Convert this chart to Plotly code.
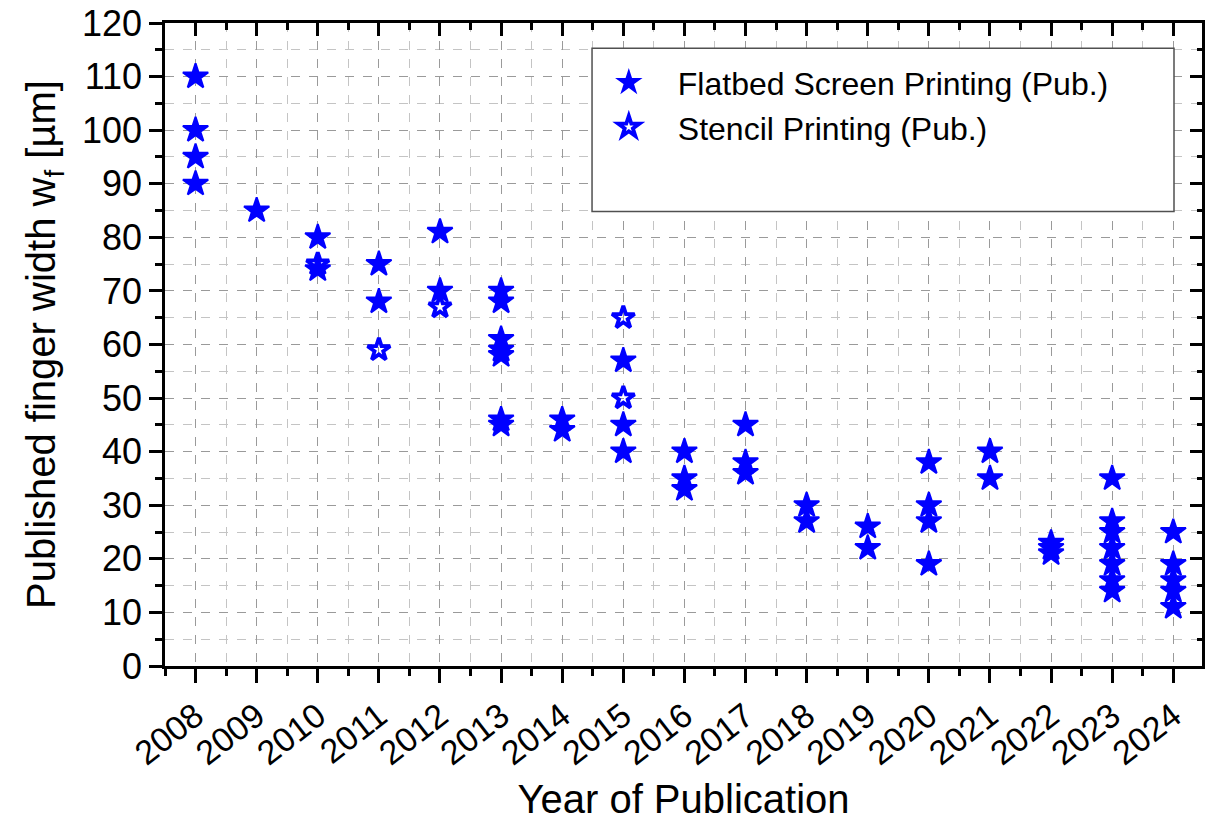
import plotly.graph_objects as go

# Flatbed screen printing (published) - filled stars
fsp_year = [2008, 2008, 2008, 2008,
            2009,
            2010, 2010,
            2011, 2011,
            2012, 2012,
            2013, 2013, 2013, 2013, 2013, 2013, 2013,
            2014, 2014,
            2015, 2015, 2015,
            2016, 2016, 2016,
            2017, 2017, 2017,
            2018, 2018,
            2019, 2019,
            2020, 2020, 2020, 2020,
            2021, 2021,
            2022, 2022, 2022,
            2023, 2023, 2023, 2023, 2023, 2023, 2023,
            2024, 2024, 2024, 2024, 2024]
fsp_width = [110, 100, 95, 90,
             85,
             80, 74,
             75, 68,
             81, 70,
             70, 68, 61, 59, 58, 46, 45,
             46, 44,
             57, 45, 40,
             40, 35, 33,
             45, 38, 36,
             30, 27,
             26, 22,
             38, 30, 27, 19,
             40, 35,
             23, 22, 21,
             35, 27, 25, 22, 19, 16, 14,
             25, 19, 16, 14, 11]

# Stencil printing (published) - open stars
stencil_year = [2010, 2011, 2012, 2015, 2015]
stencil_width = [75, 59, 67, 65, 50]

years = list(range(2008, 2025))

BLUE = "#0000FF"
FONT = "Liberation Sans, Arial, sans-serif"

fig = go.Figure()
fig.add_trace(go.Scatter(
    x=fsp_year, y=fsp_width, mode="markers",
    name="Flatbed Screen Printing (Pub.)",
    marker=dict(symbol="star", size=19, color=BLUE, line=dict(width=2, color=BLUE)),
))
fig.add_trace(go.Scatter(
    x=stencil_year, y=stencil_width, mode="markers",
    name="Stencil Printing (Pub.)",
    marker=dict(symbol="star-open", size=17, color=BLUE, line=dict(width=3.8, color=BLUE)),
))
# helper trace so mirrored axes (top/right) are drawn
fig.add_trace(go.Scatter(x=[years[0]], y=[0], xaxis="x2", yaxis="y2", mode="markers",
                         marker=dict(opacity=0), showlegend=False, hoverinfo="skip"))

grid_major = "#9a9a9a"
grid_minor = "#c4c4c4"

fig.update_layout(
    width=1212, height=826,
    margin=dict(l=165, r=10, t=23, b=160),
    paper_bgcolor="white", plot_bgcolor="white",
    font=dict(family=FONT, color="black"),
    showlegend=True,
    legend=dict(
        x=0.4, y=0.95, xanchor="left", yanchor="top",
        bgcolor="rgba(0,0,0,0)", borderwidth=0,
        font=dict(size=32, family=FONT, color="black"),
        itemwidth=88, tracegroupgap=0,
    ),
    xaxis=dict(
        range=[2007.5, 2024.47], tickmode="linear", tick0=2008, dtick=1,
        automargin="bottom",
        tickangle=-38, tickfont=dict(size=34, family=FONT, color="black"),
        ticks="outside", ticklen=14, tickwidth=2.5, tickcolor="black",
        showline=True, linecolor="black", linewidth=2.5,
        showgrid=True, gridcolor=grid_major, griddash="dash", gridwidth=1,
        zeroline=False,
        minor=dict(tick0=2007.5, dtick=0.5, ticks="outside", ticklen=7, tickwidth=2.5,
                   tickcolor="black", showgrid=True, gridcolor=grid_minor,
                   griddash="dash", gridwidth=1),
        title=dict(text="Year of Publication", font=dict(size=40, family=FONT, color="black"),
                   standoff=14),
    ),
    yaxis=dict(
        range=[0, 120], tickmode="linear", tick0=0, dtick=10,
        automargin="left",
        tickfont=dict(size=36, family=FONT, color="black"),
        ticks="outside", ticklen=13, tickwidth=2.5, tickcolor="black",
        showline=True, linecolor="black", linewidth=2.5,
        showgrid=True, gridcolor=grid_major, griddash="dash", gridwidth=1,
        zeroline=False,
        minor=dict(tick0=0, dtick=5, ticks="outside", ticklen=7, tickwidth=2.5,
                   tickcolor="black", showgrid=True, gridcolor=grid_minor,
                   griddash="dash", gridwidth=1),
        title=dict(text="Published finger width w<sub>f</sub> [µm]",
                   font=dict(size=40, family=FONT, color="black"), standoff=14),
    ),
    xaxis2=dict(
        overlaying="x", side="top", anchor="y", matches="x", automargin=False,
        range=[2007.5, 2024.47], tickmode="linear", tick0=2008, dtick=1,
        showticklabels=False, ticks="inside", ticklen=13, tickwidth=2.5, tickcolor="black",
        showline=True, linecolor="black", linewidth=2.5, showgrid=False, zeroline=False,
        minor=dict(tick0=2007.5, dtick=0.5, ticks="inside", ticklen=7, tickwidth=2.5,
                   tickcolor="black", showgrid=False),
    ),
    yaxis2=dict(
        overlaying="y", side="right", anchor="x", matches="y", automargin=False,
        range=[0, 120], tickmode="linear", tick0=0, dtick=10,
        showticklabels=False, ticks="inside", ticklen=12, tickwidth=2.5, tickcolor="black",
        showline=True, linecolor="black", linewidth=2.5, showgrid=False, zeroline=False,
        minor=dict(tick0=0, dtick=5, ticks="inside", ticklen=5, tickwidth=2.5,
                   tickcolor="black", showgrid=False),
    ),
    shapes=[dict(
        type="rect", xref="paper", yref="paper",
        x0=0.4118, x1=0.973, y0=0.707, y1=0.9606,
        line=dict(color="#505050", width=1.5), fillcolor="white", layer="above",
    )],
)

fig.write_html("out.html")
